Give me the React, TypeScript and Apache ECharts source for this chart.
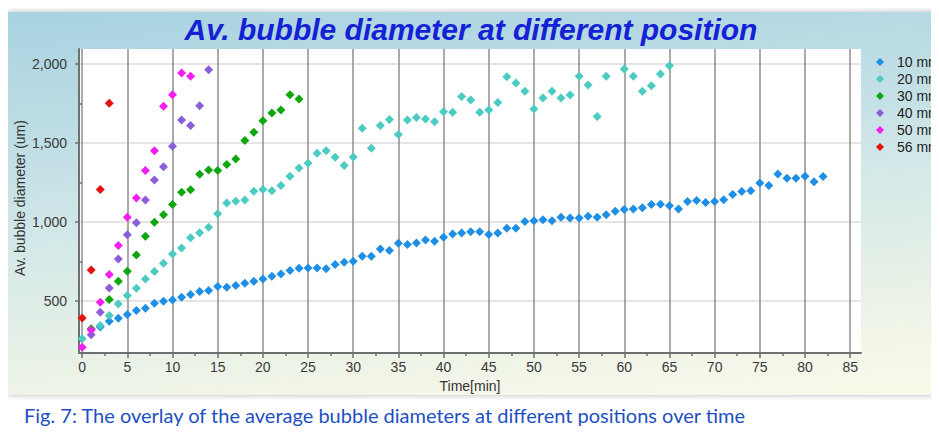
import React, { useEffect, useRef } from "react";
import * as echarts from "echarts";

const seriesNames = ["10 mm", "20 mm", "30 mm", "40 mm", "50 mm", "56 mm"];
const seriesColors = ["#1f8fe6", "#4ccbc2", "#0ea80e", "#8a5fd9", "#f21ef2", "#e41212"];

const time10 = [2, 3, 4, 5, 6, 7, 8, 9, 10, 11, 12, 13, 14, 15, 16, 17, 18, 19, 20, 21, 22, 23, 24, 25, 26, 27, 28, 29, 30, 31, 32, 33, 34, 35, 36, 37, 38, 39, 40, 41, 42, 43, 44, 45, 46, 47, 48, 49, 50, 51, 52, 53, 54, 55, 56, 57, 58, 59, 60, 61, 62, 63, 64, 65, 66, 67, 68, 69, 70, 71, 72, 73, 74, 75, 76, 77, 78, 79, 80, 81, 82];
const diam10 = [335, 371, 390, 414, 439, 454, 485, 498, 506, 523, 540, 559, 565, 591, 586, 597, 612, 624, 639, 656, 671, 692, 707, 709, 709, 703, 730, 745, 751, 783, 783, 829, 819, 865, 857, 867, 886, 878, 903, 924, 930, 937, 937, 920, 930, 960, 960, 1002, 1008, 1013, 1008, 1030, 1025, 1025, 1036, 1030, 1046, 1068, 1078, 1082, 1089, 1110, 1112, 1103, 1082, 1129, 1135, 1123, 1130, 1140, 1173, 1193, 1197, 1246, 1230, 1304, 1276, 1276, 1289, 1255, 1287];

const time20 = [0, 2, 3, 4, 5, 6, 7, 8, 9, 10, 11, 12, 13, 14, 15, 16, 17, 18, 19, 20, 21, 22, 23, 24, 25, 26, 27, 28, 29, 30, 31, 32, 33, 34, 35, 36, 37, 38, 39, 40, 41, 42, 43, 44, 45, 46, 47, 48, 49, 50, 51, 52, 53, 54, 55, 56, 57, 58, 60, 61, 62, 63, 64, 65];
const diam20 = [260, 344, 407, 481, 534, 580, 639, 686, 738, 797, 835, 899, 932, 966, 1051, 1120, 1131, 1139, 1194, 1205, 1198, 1230, 1289, 1342, 1371, 1435, 1451, 1409, 1357, 1411, 1593, 1466, 1610, 1648, 1553, 1646, 1662, 1652, 1635, 1698, 1694, 1795, 1772, 1694, 1709, 1757, 1920, 1880, 1827, 1715, 1785, 1827, 1785, 1804, 1922, 1867, 1667, 1922, 1968, 1922, 1827, 1863, 1937, 1989];

const time30 = [1, 3, 4, 5, 6, 7, 8, 9, 10, 11, 12, 13, 14, 15, 16, 17, 18, 19, 20, 21, 22, 23, 24];
const diam30 = [323, 508, 624, 688, 791, 909, 998, 1046, 1110, 1188, 1203, 1302, 1329, 1325, 1363, 1399, 1515, 1568, 1641, 1690, 1709, 1806, 1778];

const time40 = [1, 2, 3, 4, 5, 6, 7, 8, 9, 10, 11, 12, 13, 14];
const diam40 = [285, 428, 582, 766, 918, 994, 1139, 1266, 1350, 1479, 1646, 1610, 1736, 1964];

const time50 = [0, 1, 2, 3, 4, 5, 6, 7, 8, 9, 10, 11, 12];
const diam50 = [207, 316, 492, 667, 850, 1030, 1152, 1325, 1451, 1732, 1806, 1943, 1922];

const time56 = [0, 1, 2, 3];
const diam56 = [392, 696, 1205, 1751];

const xLabelValues = [0, 5, 10, 15, 20, 25, 30, 35, 40, 45, 50, 55, 60, 65, 70, 75, 80, 85];
const xMinorTickValues = [2.5, 7.5, 12.5, 17.5, 22.5, 27.5, 32.5, 37.5, 42.5, 47.5, 52.5, 57.5, 62.5, 67.5, 72.5, 77.5, 82.5];
const yLabelValues = [500, 1000, 1500, 2000];
const yMinorTickValues = [250, 750, 1250, 1750];

const titleText = "Av. bubble diameter at different position";
const xAxisTitle = "Time[min]";
const yAxisTitle = "Av. bubble diameter (um)";
const captionText = "Fig. 7: The overlay of the average bubble diameters at different positions over time";

export default function App() {
  const ref = useRef<HTMLDivElement>(null);

  useEffect(() => {
    if (!ref.current) return;
    const chart = echarts.init(ref.current, null, { renderer: "svg" });
    const font = "'Liberation Sans', Arial, Helvetica, sans-serif";
    const pair = (t: number[], d: number[]) => t.map((x, i) => [x, d[i]]);
    const allData = [
      pair(time10, diam10),
      pair(time20, diam20),
      pair(time30, diam30),
      pair(time40, diam40),
      pair(time50, diam50),
      pair(time56, diam56),
    ];
    const xMin = -0.35;
    const xMax = 86.2;
    const yMin = 170;
    const yMax = 2095;
    const axisColor = "#6f6f6f";
    const labelStyle = { color: "#3a3a3a", fontSize: 14, fontFamily: font };

    chart.setOption({
      animation: false,
      backgroundColor: "transparent",
      title: {
        text: titleText,
        left: 463,
        top: 2,
        padding: 0,
        textAlign: "center",
        textStyle: {
          color: "#1322d6",
          fontSize: 30,
          fontWeight: "bold",
          fontStyle: "italic",
          fontFamily: font,
        },
      },
      graphic: [
        {
          type: "text",
          x: 12,
          y: 186,
          rotation: Math.PI / 2,
          style: {
            text: yAxisTitle,
            fill: "#333",
            fontSize: 14,
            fontFamily: font,
            textAlign: "center",
            textVerticalAlign: "middle",
          },
        },
      ],
      legend: {
        orient: "vertical",
        left: 868,
        top: 43,
        padding: 0,
        itemGap: 3,
        itemWidth: 8,
        itemHeight: 8,
        icon: "diamond",
        textStyle: {
          color: "#222",
          fontSize: 14,
          fontFamily: font,
          lineHeight: 14,
          padding: [0, 0, 0, 8],
        },
        data: seriesNames,
      },
      grid: {
        left: 71,
        top: 37,
        right: 78,
        bottom: 42,
        show: true,
        backgroundColor: "#ffffff",
        borderWidth: 0,
        containLabel: false,
        outerBoundsMode: "none",
      },
      xAxis: [
        {
          type: "value",
          min: xMin,
          max: xMax,
          position: "bottom",
          name: xAxisTitle,
          nameLocation: "middle",
          nameGap: 25,
          nameTextStyle: { color: "#333", fontSize: 14, fontFamily: font },
          axisLine: { show: true, onZero: false, lineStyle: { color: axisColor, width: 2 } },
          axisTick: { show: true, length: 5, customValues: xLabelValues, lineStyle: { color: axisColor, width: 1.5 } },
          axisLabel: { ...labelStyle, margin: 7, customValues: xLabelValues },
          splitLine: { show: true, lineStyle: { color: "#8e8e8e", width: 1.5 } },
        },
        {
          type: "value",
          min: xMin,
          max: xMax,
          position: "bottom",
          axisLine: { show: false },
          axisTick: { show: true, length: 3, customValues: xMinorTickValues, lineStyle: { color: axisColor, width: 1.5 } },
          axisLabel: { show: false },
          splitLine: { show: false },
        },
      ],
      yAxis: [
        {
          type: "value",
          min: yMin,
          max: yMax,
          position: "left",
          axisLine: { show: true, onZero: false, lineStyle: { color: axisColor, width: 2 } },
          axisTick: { show: true, length: 4, customValues: yLabelValues, lineStyle: { color: axisColor, width: 1.5 } },
          axisLabel: {
            ...labelStyle,
            margin: 12,
            customValues: yLabelValues,
            formatter: (v: number) => v.toLocaleString("en-US"),
          },
          splitLine: { show: true, lineStyle: { color: "#dcdcdc", width: 1.5 } },
        },
        {
          type: "value",
          min: yMin,
          max: yMax,
          position: "left",
          axisLine: { show: false },
          axisTick: { show: true, length: 4, customValues: yMinorTickValues, lineStyle: { color: axisColor, width: 1.5 } },
          axisLabel: { show: false },
          splitLine: { show: false },
        },
      ],
      series: seriesNames.map((name, i) => ({
        type: "scatter",
        name,
        xAxisIndex: 0,
        yAxisIndex: 0,
        data: allData[i],
        symbol: "diamond",
        symbolSize: 9,
        itemStyle: { color: seriesColors[i], opacity: 1 },
        emphasis: { disabled: true },
      })),
    });

    return () => chart.dispose();
  }, []);

  return (
    <div style={{ position: "relative", width: 931, height: 419 }}>
      <div
        style={{
          position: "absolute",
          left: 0,
          top: 4,
          width: 931,
          height: 383,
          background:
            "linear-gradient(175deg, #a8d3e1 0%, #bcdce4 25%, #d3e8e8 50%, #e8f1e6 75%, #fbfaea 100%)",
          boxShadow: "0 0 6px rgba(0,0,0,0.3)",
        }}
      >
        <div ref={ref} style={{ width: 931, height: 383 }} />
      </div>
      <div
        style={{
          position: "absolute",
          left: 16,
          top: 397,
          fontFamily: "Lato, 'Open Sans', sans-serif",
          fontSize: 20,
          lineHeight: "20px",
          color: "#1d4fc4",
          whiteSpace: "nowrap",
        }}
      >
        {captionText}
      </div>
    </div>
  );
}
